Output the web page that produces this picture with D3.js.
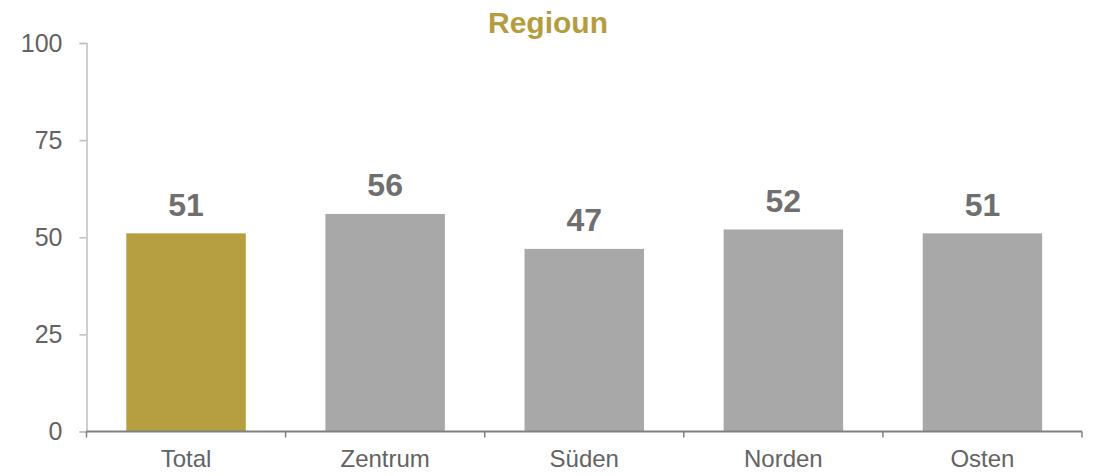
<!DOCTYPE html>
<html>
<head>
<meta charset="utf-8">
<title>Regioun</title>
<script src="https://d3js.org/d3.v7.min.js"></script>
<style>
  body { margin: 0; padding: 0; background: #fff; }
  #chart { margin: 0; padding: 0; }
  text { font-family: "Liberation Sans", Arial, sans-serif; }
</style>
</head>
<body>
<div id="chart"></div>
<script>
var categories = ["Total", "Zentrum", "Süden", "Norden", "Osten"];
var values = [51, 56, 47, 52, 51];
var yTicks = [0, 25, 50, 75, 100];
var title = "Regioun";

function drawChart() {
var W = 1101, H = 476;
var plotLeft = 86.5, plotRight = 1082, plotTop = 43, plotBottom = 431.5;

var svg = d3.select("#chart").append("svg")
  .attr("width", W)
  .attr("height", H);

var x = d3.scaleBand()
  .domain(categories)
  .range([plotLeft, plotRight])
  .paddingInner(0.4)
  .paddingOuter(0.2);

var y = d3.scaleLinear()
  .domain([0, 100])
  .range([plotBottom, plotTop]);

// title
svg.append("text")
  .attr("x", 548)
  .attr("y", 33)
  .attr("text-anchor", "middle")
  .attr("font-size", 30)
  .attr("font-weight", "bold")
  .attr("fill", "#b59d3f")
  .text(title);

// y axis
var yAxis = svg.append("g")
  .attr("transform", "translate(" + plotLeft + ",0)")
  .call(d3.axisLeft(y).tickValues(yTicks).tickSize(7).tickPadding(17));
yAxis.select(".domain").attr("stroke", "#bfbfbf").attr("stroke-width", 1.5);
yAxis.selectAll(".tick line").attr("stroke", "#bfbfbf").attr("stroke-width", 1.5);
yAxis.selectAll(".tick text")
  .attr("font-size", 25)
  .attr("fill", "#636363")
  .attr("font-family", "Liberation Sans, Arial, sans-serif");

// bars
svg.selectAll("rect.bar")
  .data(values)
  .enter().append("rect")
  .attr("class", "bar")
  .attr("x", function(d, i) { return x(categories[i]); })
  .attr("width", x.bandwidth())
  .attr("y", function(d) { return y(d); })
  .attr("height", function(d) { return y(0) - y(d); })
  .attr("fill", function(d, i) { return i === 0 ? "#b59f40" : "#a8a8a8"; });

// value labels
svg.selectAll("text.val")
  .data(values)
  .enter().append("text")
  .attr("class", "val")
  .attr("x", function(d, i) { return x(categories[i]) + x.bandwidth() / 2; })
  .attr("y", function(d) { return y(d) - 17.5; })
  .attr("text-anchor", "middle")
  .attr("font-size", 32)
  .attr("font-weight", "bold")
  .attr("fill", "#6f6f6f")
  .text(function(d) { return d; });

// x axis line + boundary ticks
var half = (x.step() - x.bandwidth()) / 2;
var bounds = categories.map(function(c) { return x(c) - half; });
bounds.push(plotRight);

var xg = svg.append("g");
xg.append("line")
  .attr("x1", plotLeft).attr("x2", plotRight)
  .attr("y1", plotBottom).attr("y2", plotBottom)
  .attr("stroke", "#808080").attr("stroke-width", 2);
xg.selectAll("line.tk")
  .data(bounds)
  .enter().append("line")
  .attr("class", "tk")
  .attr("x1", function(d) { return d; }).attr("x2", function(d) { return d; })
  .attr("y1", plotBottom).attr("y2", plotBottom + 6)
  .attr("stroke", "#808080").attr("stroke-width", 1.5);
xg.selectAll("text")
  .data(categories)
  .enter().append("text")
  .attr("x", function(d) { return x(d) + x.bandwidth() / 2; })
  .attr("y", 467)
  .attr("text-anchor", "middle")
  .attr("font-size", 24)
  .attr("fill", "#636363")
  .text(function(d) { return d; });
}

drawChart();
</script>
</body>
</html>
